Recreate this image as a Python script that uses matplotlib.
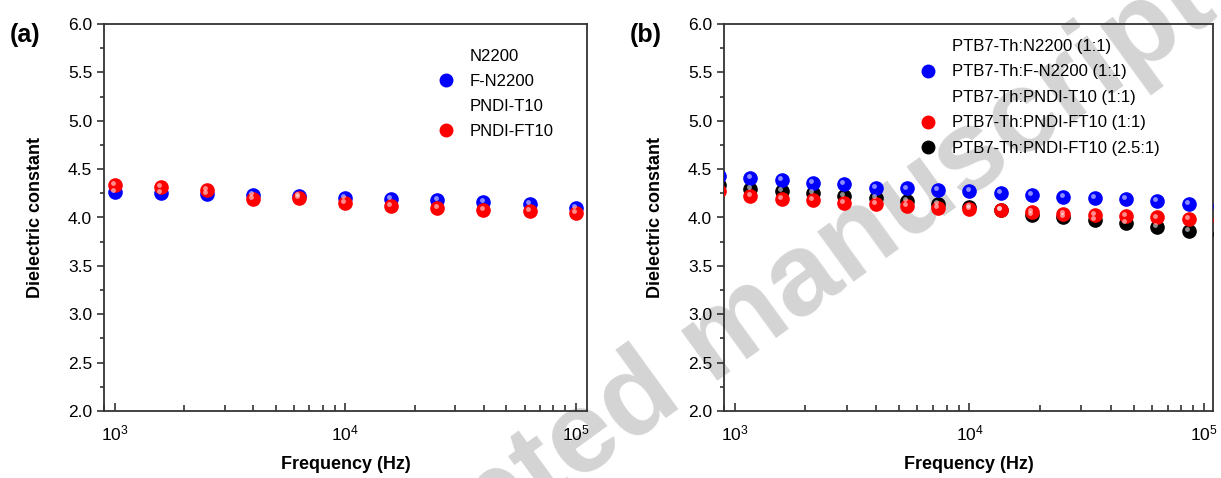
import numpy as np
import matplotlib.pyplot as plt
import matplotlib.transforms as mtransforms
from matplotlib.lines import Line2D

plt.rcParams['font.family'] = ['Liberation Sans', 'DejaVu Sans']
plt.rcParams['mathtext.default'] = 'regular'

# panel (a): films
freq_a = [1000, 1585, 2512, 3981, 6310, 10000, 15849, 25119, 39811, 63096, 100000]
fn2200_a = [4.26, 4.25, 4.24, 4.23, 4.22, 4.20, 4.19, 4.18, 4.16, 4.14, 4.10]
pndift10_a = [4.34, 4.32, 4.28, 4.19, 4.20, 4.15, 4.12, 4.10, 4.08, 4.07, 4.05]
labels_a = ['N2200', 'F-N2200', 'PNDI-T10', 'PNDI-FT10']

# panel (b): blends
freq_b = [858, 1166, 1585, 2154, 2929, 3981, 5412, 7356, 10000, 13594,
          18478, 25119, 34145, 46416, 63096, 85770, 116591]
fn2200_b = [4.43, 4.41, 4.39, 4.36, 4.35, 4.31, 4.30, 4.28, 4.27, 4.25,
            4.23, 4.21, 4.20, 4.19, 4.17, 4.14, 4.12]
pndift10_b = [4.27, 4.22, 4.19, 4.18, 4.15, 4.14, 4.12, 4.10, 4.09, 4.08,
              4.06, 4.04, 4.03, 4.02, 4.00, 3.98, 3.97]
pndift10_25_b = [4.34, 4.29, 4.27, 4.25, 4.22, 4.20, 4.17, 4.14, 4.11, 4.08,
                 4.03, 4.01, 3.97, 3.94, 3.90, 3.86, 3.83]
labels_b = ['PTB7-Th:N2200 (1:1)', 'PTB7-Th:F-N2200 (1:1)', 'PTB7-Th:PNDI-T10 (1:1)',
            'PTB7-Th:PNDI-FT10 (1:1)', 'PTB7-Th:PNDI-FT10 (2.5:1)']

W, H = 1221, 478
fig = plt.figure(figsize=(W / 100, H / 100), dpi=100)

# watermark, behind everything
fig.text(0.592, 0.29, 'Accepted manuscript', fontsize=84, fontweight='bold',
         color='#d4d4d4', rotation=36, ha='center', va='center',
         rotation_mode='anchor', zorder=-5)

ax_a = fig.add_axes([104 / W, 67 / H, 483 / W, 387 / H])
ax_b = fig.add_axes([724 / W, 67 / H, 489 / W, 387 / H])


def sphere(ax, x, y, color):
    ax.plot(x, y, 'o', ms=9.5, color=color, mec=color, ls='none', zorder=3)
    off = mtransforms.offset_copy(ax.transData, fig=fig, x=-1.3, y=1.4, units='points')
    ax.plot(x, y, 'o', ms=3.5, color='white', mec='none', alpha=0.55, ls='none',
            transform=off, zorder=4)


def ball(color):
    return Line2D([], [], marker='o', ms=9, color=color, ls='none')


empty = Line2D([], [], marker='', ls='none')

sphere(ax_a, freq_a, fn2200_a, 'blue')
sphere(ax_a, freq_a, pndift10_a, 'red')
ax_a.legend([empty, ball('blue'), empty, ball('red')], labels_a,
            loc='upper left', bbox_to_anchor=(0.66, 0.975), frameon=False,
            fontsize=12, handlelength=1.0, handletextpad=0.9, labelspacing=0.6)

sphere(ax_b, freq_b, pndift10_25_b, 'black')
sphere(ax_b, freq_b, pndift10_b, 'red')
sphere(ax_b, freq_b, fn2200_b, 'blue')
ax_b.legend([empty, ball('blue'), empty, ball('red'), ball('black')], labels_b,
            loc='upper left', bbox_to_anchor=(0.37, 1.0), frameon=False,
            fontsize=12, handlelength=1.0, handletextpad=0.9, labelspacing=0.63)

for ax, xmax in [(ax_a, 1.12e5), (ax_b, 1.09e5)]:
    ax.set_facecolor('none')
    ax.set_xscale('log')
    ax.set_xlim(900, xmax)
    ax.set_ylim(2.0, 6.0)
    ax.set_yticks(np.arange(2.0, 6.01, 0.5))
    ax.set_yticks(np.arange(2.0, 6.01, 0.25), minor=True)
    ax.yaxis.set_major_formatter(plt.FormatStrFormatter('%.1f'))
    ax.tick_params(axis='y', which='both', direction='out', left=True, right=False,
                   labelsize=12.5, color='#222222', width=1.1)
    ax.tick_params(axis='y', which='major', length=5)
    ax.tick_params(axis='y', which='minor', length=3)
    ax.tick_params(axis='x', which='both', direction='in', top=False,
                   labelsize=12.5, color='#222222', width=1.1, pad=9)
    ax.tick_params(axis='x', which='major', length=6)
    ax.tick_params(axis='x', which='minor', length=4)
    for s in ax.spines.values():
        s.set_color('#333333')
        s.set_linewidth(1.3)
    ax.set_xlabel('Frequency (Hz)', fontsize=13, fontweight='bold', labelpad=9)
    ax.set_ylabel('Dielectric constant', fontsize=13, fontweight='bold', labelpad=17)

fig.text(10 / W, 1 - 35 / H, '(a)', fontsize=18, fontweight='bold', va='center')
fig.text(630 / W, 1 - 35 / H, '(b)', fontsize=18, fontweight='bold', va='center')

fig.savefig('out.png', dpi=100)
